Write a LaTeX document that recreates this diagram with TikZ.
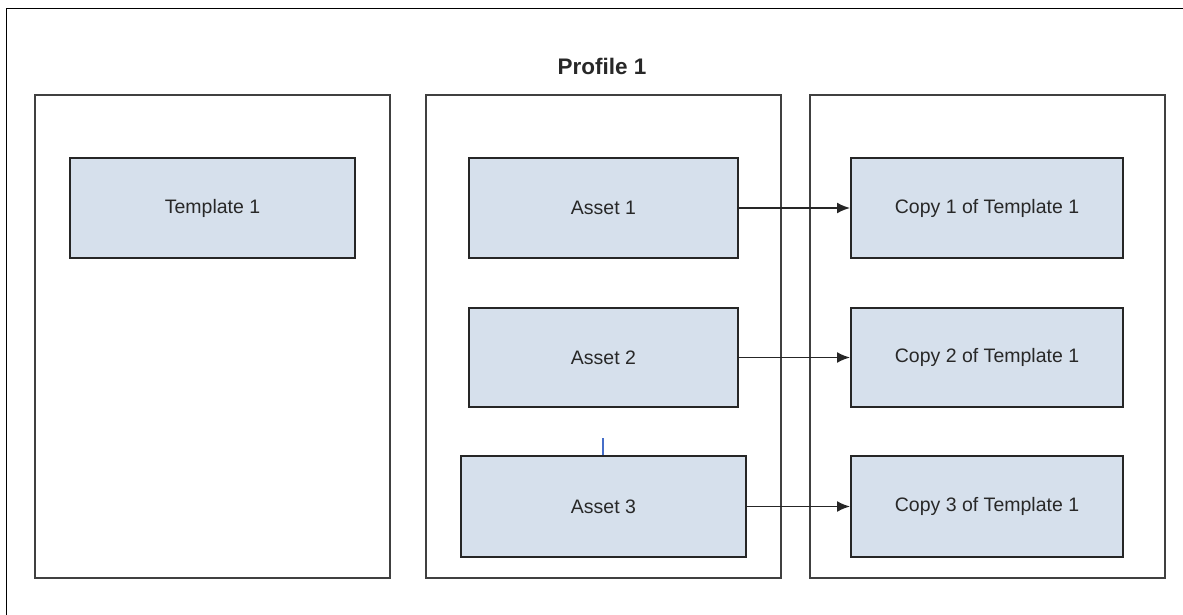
\documentclass[tikz,border=0pt]{standalone}
\usepackage{fontspec}
\setmainfont{Liberation Sans}
\usetikzlibrary{arrows.meta}
\definecolor{boxfill}{RGB}{214,224,236}
\definecolor{txt}{RGB}{40,40,40}
\definecolor{framegray}{RGB}{64,64,64}
\definecolor{bluemark}{RGB}{70,110,200}
\tikzset{
  column/.style={draw=framegray, line width=2pt},
  item/.style={draw=black!85, line width=2pt, fill=boxfill},
  lbl/.style={text=txt, font=\fontsize{19.5}{22}\selectfont, inner sep=0pt},
  link/.style={draw=black!85, line width=1.8pt, -{Latex[length=13pt,width=11pt]}},
}
\begin{document}
\begin{tikzpicture}[x=1pt,y=-1pt]
\useasboundingbox (0,0) rectangle (1183,615);
\clip (0,0) rectangle (1183,615);
\coordinate (ftr) at (1190,8.5);
\coordinate (ftl) at (6.5,8.5);
\coordinate (fbl) at (6.5,625);
\draw[black, line width=1.6pt] (ftr) -- (ftl) -- (fbl);
\node[text=txt, font=\fontsize{22.5}{26}\bfseries\selectfont, inner sep=0pt] (title) at (602,66) {Profile 1};
% columns
\draw[column] (34.5,95) rectangle (390,578);
\draw[column] (425.5,95) rectangle (780.5,578);
\draw[column] (809.5,95) rectangle (1165,578);
% left
\draw[item] (70,158) rectangle (355,258);
\node[lbl] (t1) at (212.5,208) {Template 1};
% assets
\draw[item] (469,158) rectangle (738,258);
\node[lbl] (a1) at (603.5,208) {Asset 1};
\draw[item] (469,308) rectangle (738,407);
\node[lbl] (a2) at (603.5,357.5) {Asset 2};
\draw[item] (461,456) rectangle (746,557);
\node[lbl] (a3) at (603.5,506.5) {Asset 3};
% copies
\draw[item] (851,158) rectangle (1123,258);
\node[lbl] (c1) at (987,208) {Copy 1 of Template 1};
\draw[item] (851,308) rectangle (1123,407);
\node[lbl] (c2) at (987,357.5) {Copy 2 of Template 1};
\draw[item] (851,456) rectangle (1123,557);
\node[lbl] (c3) at (987,506.5) {Copy 3 of Template 1};
% named anchors for connectors
\coordinate (a1e) at (739,208);
\coordinate (a2e) at (739,357.5);
\coordinate (a3e) at (747,506.5);
\coordinate (c1w) at (850,208);
\coordinate (c2w) at (850,357.5);
\coordinate (c3w) at (850,506.5);
\draw[link] (a1e) -- (c1w);
\draw[link] (a2e) -- (c2w);
\draw[link] (a3e) -- (c3w);
% small blue mark
\coordinate (m1) at (603,438);
\coordinate (m2) at (603,455);
\draw[bluemark, line width=1.4pt] (m1) -- (m2);
\end{tikzpicture}
\end{document}
